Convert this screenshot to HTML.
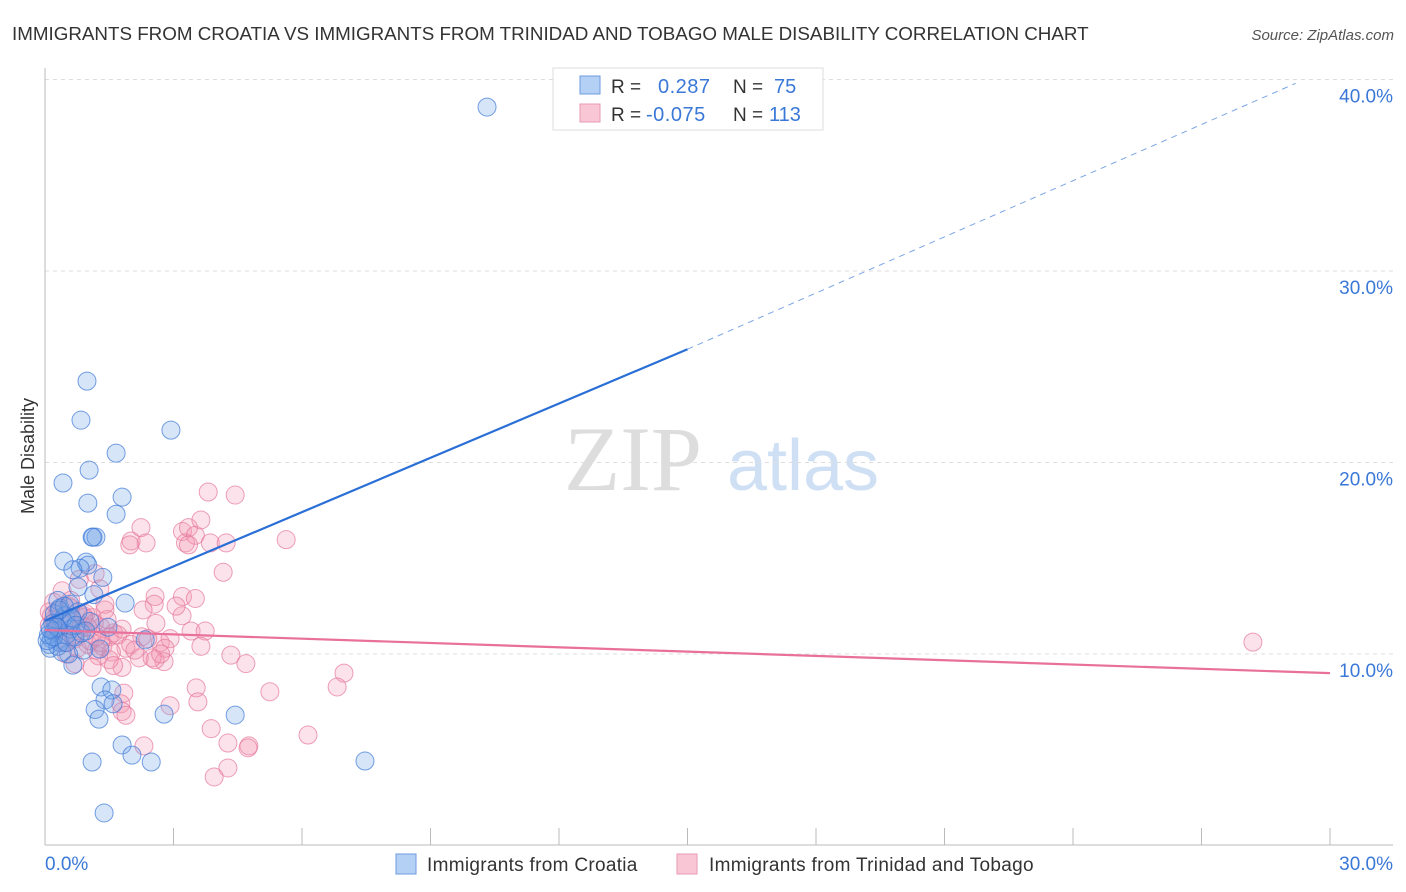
<!DOCTYPE html>
<html><head><meta charset="utf-8"><style>
body{margin:0;background:#fff;font-family:"Liberation Sans",sans-serif;}
#wrap{position:relative;width:1406px;height:892px;overflow:hidden;}
</style></head><body>
<div id="wrap">
<svg id="svg" width="1406" height="892" xmlns="http://www.w3.org/2000/svg">
<text x="12" y="40" font-size="18.8" fill="#333">IMMIGRANTS FROM CROATIA VS IMMIGRANTS FROM TRINIDAD AND TOBAGO MALE DISABILITY CORRELATION CHART</text>
<text x="1394" y="40" font-size="15" fill="#555" font-style="italic" text-anchor="end">Source: ZipAtlas.com</text>
<text x="34" y="456" font-size="18" fill="#333" text-anchor="middle" transform="rotate(-90 34 456)">Male Disability</text>
<g><text x="633" y="490" font-size="92" fill="#ddd" font-family="Liberation Serif,serif" text-anchor="middle">ZIP</text><text x="803" y="490" font-size="72" fill="#cfe0f5" text-anchor="middle">atlas</text></g>
<g id="grid"></g><g id="axes"></g><g id="pts"></g><g id="lines"></g>
<g>
<rect x="553" y="68" width="270" height="62" fill="#fff" stroke="#ddd"/>
<rect x="580" y="76" width="20" height="18" fill="#b5d0f5" stroke="#6a9be0"/>
<rect x="580" y="104" width="20" height="18" fill="#f9c6d5" stroke="#ea9ab3"/>
<text x="611" y="93" font-size="19" fill="#333">R =</text><text x="658" y="93" font-size="20" fill="#3a78d8" letter-spacing="0.5">0.287</text>
<text x="733" y="93" font-size="19" fill="#333">N =</text><text x="774" y="93" font-size="20" fill="#3a78d8">75</text>
<text x="611" y="121" font-size="19" fill="#333">R =</text><text x="646" y="121" font-size="20" fill="#3a78d8" letter-spacing="0.5">-0.075</text>
<text x="733" y="121" font-size="19" fill="#333">N =</text><text x="769" y="121" font-size="20" fill="#3a78d8">113</text>
</g>
<g>
<rect x="396" y="854" width="20" height="20" fill="#b5d0f5" stroke="#6a9be0"/>
<text x="427" y="871" font-size="19" fill="#333" letter-spacing="0.3">Immigrants from Croatia</text>
<rect x="677" y="854" width="20" height="20" fill="#f9c6d5" stroke="#ea9ab3"/>
<text x="709" y="871" font-size="19" fill="#333" letter-spacing="0.3">Immigrants from Trinidad and Tobago</text>
</g>
</svg>
</div>
<script>
const blueX=[10.32,0.98,0.84,2.94,1.66,1.03,0.42,1.80,1.00,1.66,1.10,1.19,1.12,0.44,0.96,1.0,0.82,1.35,0.65,0.77,1.14,1.87,0.3,0.35,0.47,0.58,0.63,0.77,1.47,2.34,1.28,0.65,1.31,1.56,1.40,1.17,1.26,1.59,2.78,4.44,1.80,2.03,2.48,1.10,7.47,1.38,0.1,0.15,0.2,0.25,0.12,0.35,0.5,0.6,0.4,0.08,0.22,0.7,0.9,0.55,0.3,0.45,0.18,0.05,0.28,0.62,0.85,1.05,0.4,0.2,0.12,0.33,0.5,0.72,0.95];
const blueY=[38.56,24.25,22.21,21.69,20.49,19.60,18.93,18.19,17.88,17.30,16.1,16.1,16.1,14.85,14.8,14.64,14.48,14.0,14.4,13.5,13.1,12.66,12.8,12.4,12.0,12.6,11.8,12.2,11.4,10.74,10.26,9.42,8.28,8.12,7.6,7.1,6.6,7.4,6.86,6.81,5.25,4.72,4.36,4.36,4.41,1.70,10.5,10.8,11.2,11.5,10.3,10.6,11.0,11.3,11.8,11.0,12.1,10.9,10.2,10.0,10.4,12.5,11.6,10.7,11.4,11.9,11.1,11.7,10.1,10.9,11.3,12.3,10.6,11.5,11.2];
const pinkX=[3.81,4.44,3.21,3.35,3.28,3.51,3.35,3.86,3.64,2.24,2.01,2.36,1.98,4.23,5.63,4.16,1.17,1.28,2.57,3.21,3.51,2.55,3.2,2.29,2.59,3.06,3.41,2.26,2.69,2.92,3.74,3.64,2.80,2.78,2.57,1.89,1.80,4.34,4.69,6.98,6.82,5.25,3.53,1.84,1.77,1.80,1.89,3.57,2.92,3.88,6.14,4.27,4.76,4.74,2.31,4.27,3.95,28.2,0.1,0.2,0.3,0.4,0.5,0.6,0.7,0.8,0.9,1.0,1.1,1.2,1.3,1.4,1.5,1.6,0.15,0.25,0.35,0.45,0.55,0.65,0.75,0.85,0.95,1.05,1.15,1.25,1.35,1.45,1.55,1.7,2.0,2.2,2.4,0.1,0.3,0.5,0.7,0.9,1.1,1.3,1.5,0.2,0.4,0.6,0.8,1.0,1.2,1.4,1.6,1.8,2.1,2.5,2.7];
const pinkY=[18.46,18.3,16.4,16.6,15.8,16.2,15.7,15.8,17.0,16.6,15.9,15.8,15.7,15.8,15.97,14.27,14.2,13.4,13.0,13.0,12.9,12.6,12.0,12.3,11.6,12.5,11.2,10.9,10.6,10.8,11.2,10.4,10.3,9.6,9.7,10.3,9.3,9.94,9.5,9.0,8.28,8.03,8.23,7.96,7.4,7.0,6.8,7.5,7.3,6.1,5.77,5.35,5.2,5.1,5.2,4.05,3.58,10.62,11.5,11.8,12.2,11.0,11.6,12.4,10.8,11.3,12.0,10.5,11.9,10.2,11.4,12.3,10.9,11.1,12.0,11.2,11.7,10.6,12.5,11.0,10.3,11.5,12.1,10.7,11.6,9.9,10.4,11.8,10.1,11.0,10.5,9.8,10.8,12.2,11.3,10.0,9.5,11.9,9.3,10.6,9.7,12.7,13.3,12.8,13.9,11.4,10.9,12.6,9.4,11.3,10.2,9.8,10.0];
const trendBlue=[11.25,39.8]; const trendPink=[11.25,9.0];
const yTicks=[10,20,30,40]; const yTickLabels=["10.0%","20.0%","30.0%","40.0%"];
const xTicks=[0,3,6,9,12,15,18,21,24,27,30];
const X=v=>45+v*1285/30, Y=v=>845.5-v*19.15;
const NS="http://www.w3.org/2000/svg";
function mk(t,a,p){const e=document.createElementNS(NS,t);for(const k in a)e.setAttribute(k,a[k]);p.appendChild(e);return e;}
const grid=document.getElementById('grid'),axes=document.getElementById('axes'),pts=document.getElementById('pts'),lines=document.getElementById('lines');
yTicks.forEach((t,i)=>{
 const l=mk('line',{x1:45,x2:1393,y1:Y(t),y2:Y(t),stroke:'#ddd','stroke-dasharray':'4,4'},grid);
 
 
 const tx=mk('text',{x:1393,y:Y(t)+23,'font-size':19,fill:'#3a78d8','text-anchor':'end'},axes);tx.textContent=yTickLabels[i];
 
 
});
const ax=mk('line',{x1:45,x2:45,y1:68,y2:845,stroke:'#bbb'},axes);


const bx=mk('line',{x1:45,x2:1393,y1:845,y2:845,stroke:'#bbb'},axes);


xTicks.forEach(t=>{const l=mk('line',{x1:X(t),x2:X(t),y1:828,y2:845,stroke:'#bbb'},axes);
 
 });
let t0=mk('text',{x:45,y:870,'font-size':19,fill:'#3a78d8'},axes);t0.textContent='0.0%';


let t1=mk('text',{x:1393,y:870,'font-size':19,fill:'#3a78d8','text-anchor':'end'},axes);t1.textContent='30.0%';


pinkX.forEach((x,i)=>{const c=mk('circle',{cx:X(x),cy:Y(pinkY[i]),r:9,fill:'rgba(244,150,180,0.28)',stroke:'rgba(230,120,155,0.7)','stroke-width':1},pts);
 
 });
blueX.forEach((x,i)=>{const c=mk('circle',{cx:X(x),cy:Y(blueY[i]),r:9,fill:'rgba(110,160,230,0.28)',stroke:'rgba(60,120,215,0.7)','stroke-width':1},pts);
 
 });
const bxEnd=29.2, bSolid=15;
const by=x=>trendBlue[0]+(trendBlue[1]-trendBlue[0])*x/bxEnd;
let l1=mk('line',{x1:X(0),y1:Y(by(0.5)),x2:X(bSolid),y2:Y(by(bSolid)),stroke:'#2a6fd6','stroke-width':2.2},lines);


let l2=mk('line',{x1:X(bSolid),y1:Y(by(bSolid)),x2:X(bxEnd),y2:Y(by(bxEnd)),stroke:'#7aa5e5','stroke-width':1,'stroke-dasharray':'6,5'},lines);


let l3=mk('line',{x1:X(0),y1:Y(trendPink[0]),x2:X(30),y2:Y(trendPink[1]),stroke:'#e8709a','stroke-width':2.2},lines);


</script>
</body></html>
